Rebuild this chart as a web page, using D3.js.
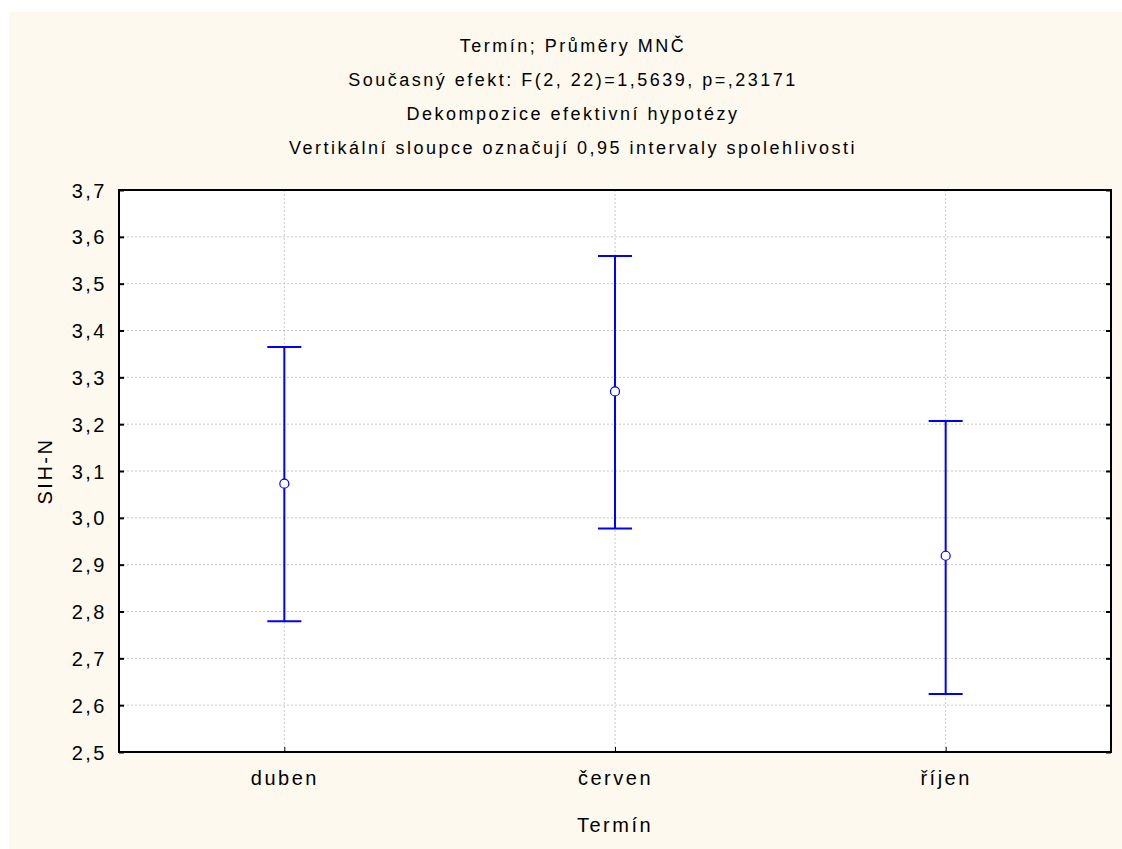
<!DOCTYPE html>
<html>
<head>
<meta charset="utf-8">
<script src="https://cdn.jsdelivr.net/npm/d3@7"></script>
<style>
  body { margin: 0; background: #fff; }
  text { font-family: "Liberation Sans", Arial, sans-serif; fill: #000; letter-spacing: 2.5px; }
</style>
</head>
<body>
<div id="chart"></div>
<script>
// Data
const terms = ["duben", "červen", "říjen"]
const means = [3.073, 3.270, 2.919]
const lower = [2.779, 2.977, 2.624]
const upper = [3.365, 3.559, 3.207]
const yTicks = [2.5, 2.6, 2.7, 2.8, 2.9, 3.0, 3.1, 3.2, 3.3, 3.4, 3.5, 3.6, 3.7]
const titleLines = [
  "Termín; Průměry MNČ",
  "Současný efekt: F(2, 22)=1,5639, p=,23171",
  "Dekompozice efektivní hypotézy",
  "Vertikální sloupce označují 0,95 intervaly spolehlivosti"
]

// Dimensions
const width = 1122
const height = 849
const margin = { top: 190, right: 11, bottom: 97, left: 119 }
const innerW = width - margin.left - margin.right
const innerH = height - margin.top - margin.bottom

const svg = d3.select("#chart")
  .append("svg")
  .attr("width", width)
  .attr("height", height)

// cream background with white strip top/left
svg.append("rect")
  .attr("x", 9).attr("y", 12)
  .attr("width", width - 9).attr("height", height - 12)
  .attr("fill", "#fef9ee")

const x = d3.scalePoint()
  .domain(terms)
  .range([0, innerW])
  .padding(0.5)

const y = d3.scaleLinear()
  .domain([2.5, 3.7])
  .range([innerH, 0])

const fmt = d => d3.format(".1f")(d).replace(".", ",")

const g = svg.append("g")
  .attr("transform", `translate(${margin.left},${margin.top})`)

// plot area
g.append("rect")
  .attr("width", innerW).attr("height", innerH)
  .attr("fill", "#fff")

// grid
g.append("g")
  .selectAll("line")
  .data(yTicks.slice(1, -1))
  .join("line")
  .attr("x1", 0).attr("x2", innerW)
  .attr("y1", d => y(d)).attr("y2", d => y(d))
  .attr("stroke", "#c8c8c8")
  .attr("stroke-dasharray", "2,2")

g.append("g")
  .selectAll("line")
  .data(terms)
  .join("line")
  .attr("x1", d => x(d)).attr("x2", d => x(d))
  .attr("y1", 0).attr("y2", innerH)
  .attr("stroke", "#c8c8c8")
  .attr("stroke-dasharray", "2,2")

// axes
const yAxis = g.append("g")
  .call(d3.axisLeft(y).tickValues(yTicks).tickSize(-5).tickPadding(12).tickFormat(fmt))
yAxis.select(".domain").remove()
yAxis.selectAll("text").style("font-size", "20px").attr("dy", "0.35em")

const yAxisR = g.append("g")
  .attr("transform", `translate(${innerW},0)`)
  .call(d3.axisRight(y).tickValues(yTicks).tickSize(-5).tickFormat(""))
yAxisR.select(".domain").remove()

const xAxis = g.append("g")
  .attr("transform", `translate(0,${innerH})`)
  .call(d3.axisBottom(x).tickSize(-5).tickPadding(19))
xAxis.select(".domain").remove()
xAxis.selectAll("text").style("font-size", "20px")

g.selectAll(".tick line").attr("stroke", "#000").attr("stroke-width", 2)
xAxis.selectAll(".tick line").attr("stroke-width", 1)

// frame
g.append("rect")
  .attr("width", innerW).attr("height", innerH)
  .attr("fill", "none")
  .attr("stroke", "#000")
  .attr("stroke-width", 2)

// error bars
const bars = g.append("g")
  .selectAll("g")
  .data(terms)
  .join("g")
  .attr("stroke", "#0000ff")
  .attr("stroke-width", 2)

bars.append("line")
  .attr("x1", d => x(d)).attr("x2", d => x(d))
  .attr("y1", (d, i) => y(upper[i])).attr("y2", (d, i) => y(lower[i]))

bars.append("line")
  .attr("x1", d => x(d) - 17).attr("x2", d => x(d) + 17)
  .attr("y1", (d, i) => y(upper[i])).attr("y2", (d, i) => y(upper[i]))

bars.append("line")
  .attr("x1", d => x(d) - 17).attr("x2", d => x(d) + 17)
  .attr("y1", (d, i) => y(lower[i])).attr("y2", (d, i) => y(lower[i]))

bars.append("circle")
  .attr("cx", d => x(d))
  .attr("cy", (d, i) => y(means[i]))
  .attr("r", 4.5)
  .attr("fill", "#fff")
  .attr("stroke-width", 1.2)

// titles
svg.append("g")
  .selectAll("text")
  .data(titleLines)
  .join("text")
  .attr("x", 573)
  .attr("y", (d, i) => 52 + i * 34)
  .attr("text-anchor", "middle")
  .style("font-size", "18px")
  .text(d => d)

svg.append("text")
  .attr("x", margin.left + innerW / 2)
  .attr("y", 832)
  .attr("text-anchor", "middle")
  .style("font-size", "20px")
  .text("Termín")

svg.append("text")
  .attr("transform", `translate(52,${margin.top + innerH / 2}) rotate(-90)`)
  .attr("text-anchor", "middle")
  .style("font-size", "20px")
  .text("SIH-N")
</script>
</body>
</html>
